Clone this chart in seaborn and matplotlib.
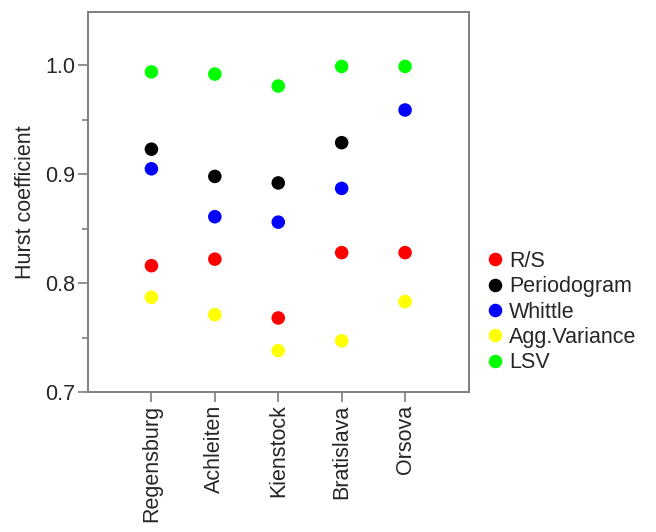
import numpy as np
import pandas as pd
import matplotlib
matplotlib.use("Agg")
import matplotlib.pyplot as plt
import seaborn as sns
from matplotlib.ticker import MultipleLocator

stations = ["Regensburg", "Achleiten", "Kienstock", "Bratislava", "Orsova"]
methods = ["R/S", "Periodogram", "Whittle", "Agg.Variance", "LSV"]
rs = [0.816, 0.822, 0.768, 0.828, 0.828]
periodogram = [0.923, 0.898, 0.892, 0.929, np.nan]
whittle = [0.905, 0.861, 0.856, 0.887, 0.959]
aggvar = [0.787, 0.771, 0.738, 0.747, 0.783]
lsv = [0.994, 0.992, 0.981, 0.999, 0.999]
colors = ["#ff0000", "#000000", "#0000ff", "#ffff00", "#00ff00"]

series = [rs, periodogram, whittle, aggvar, lsv]
rows = []
for m, vals in zip(methods, series):
    for s, v in zip(stations, vals):
        rows.append({"Station": s, "Method": m, "H": v})
df = pd.DataFrame(rows).dropna()
df["x"] = df["Station"].map({s: i for i, s in enumerate(stations)})

sns.set_style("white")
plt.rcParams["font.family"] = ["Liberation Sans", "DejaVu Sans"]
FS = 15.5

fig = plt.figure(figsize=(6.56, 5.32), dpi=100)
ax = fig.add_axes([88 / 656, 1 - 392 / 532, (468.5 - 88) / 656, (392 - 12) / 532])

sns.scatterplot(data=df, x="x", y="H", hue="Method", hue_order=methods,
                palette=colors, s=95, edgecolor="none", ax=ax, legend=True)

ax.set_xlim(-1, 5)
ax.set_ylim(0.7, 1.049)
ax.set_xticks(range(len(stations)))
ax.set_xticklabels(stations, rotation=90, fontsize=FS)
ax.yaxis.set_minor_locator(MultipleLocator(0.05))
ax.set_yticks([0.7, 0.8, 0.9, 1.0])
ax.set_yticklabels(["0.7", "0.8", "0.9", "1.0"], fontsize=FS)
ax.set_xlabel("")
ax.set_ylabel("Hurst coefficient", fontsize=FS, labelpad=7)

for sp in ax.spines.values():
    sp.set_color("#7f7f7f")
    sp.set_linewidth(1.4)
ax.tick_params(axis="both", which="major", direction="out", length=7,
               width=1.2, color="#7f7f7f", left=True, bottom=True, pad=2)
ax.tick_params(axis="y", which="minor", direction="out", length=4,
               width=1.2, color="#7f7f7f", left=True)

handles, labels = ax.get_legend_handles_labels()
ax.get_legend().remove()
fig.legend(handles, labels, loc="upper left",
           bbox_to_anchor=(484 / 656, 1 - 251 / 532), frameon=False,
           fontsize=FS, handlelength=1.0, handletextpad=0.15,
           labelspacing=0.2, borderpad=0, borderaxespad=0, markerscale=1.0)

fig.savefig("out.png", dpi=100)
